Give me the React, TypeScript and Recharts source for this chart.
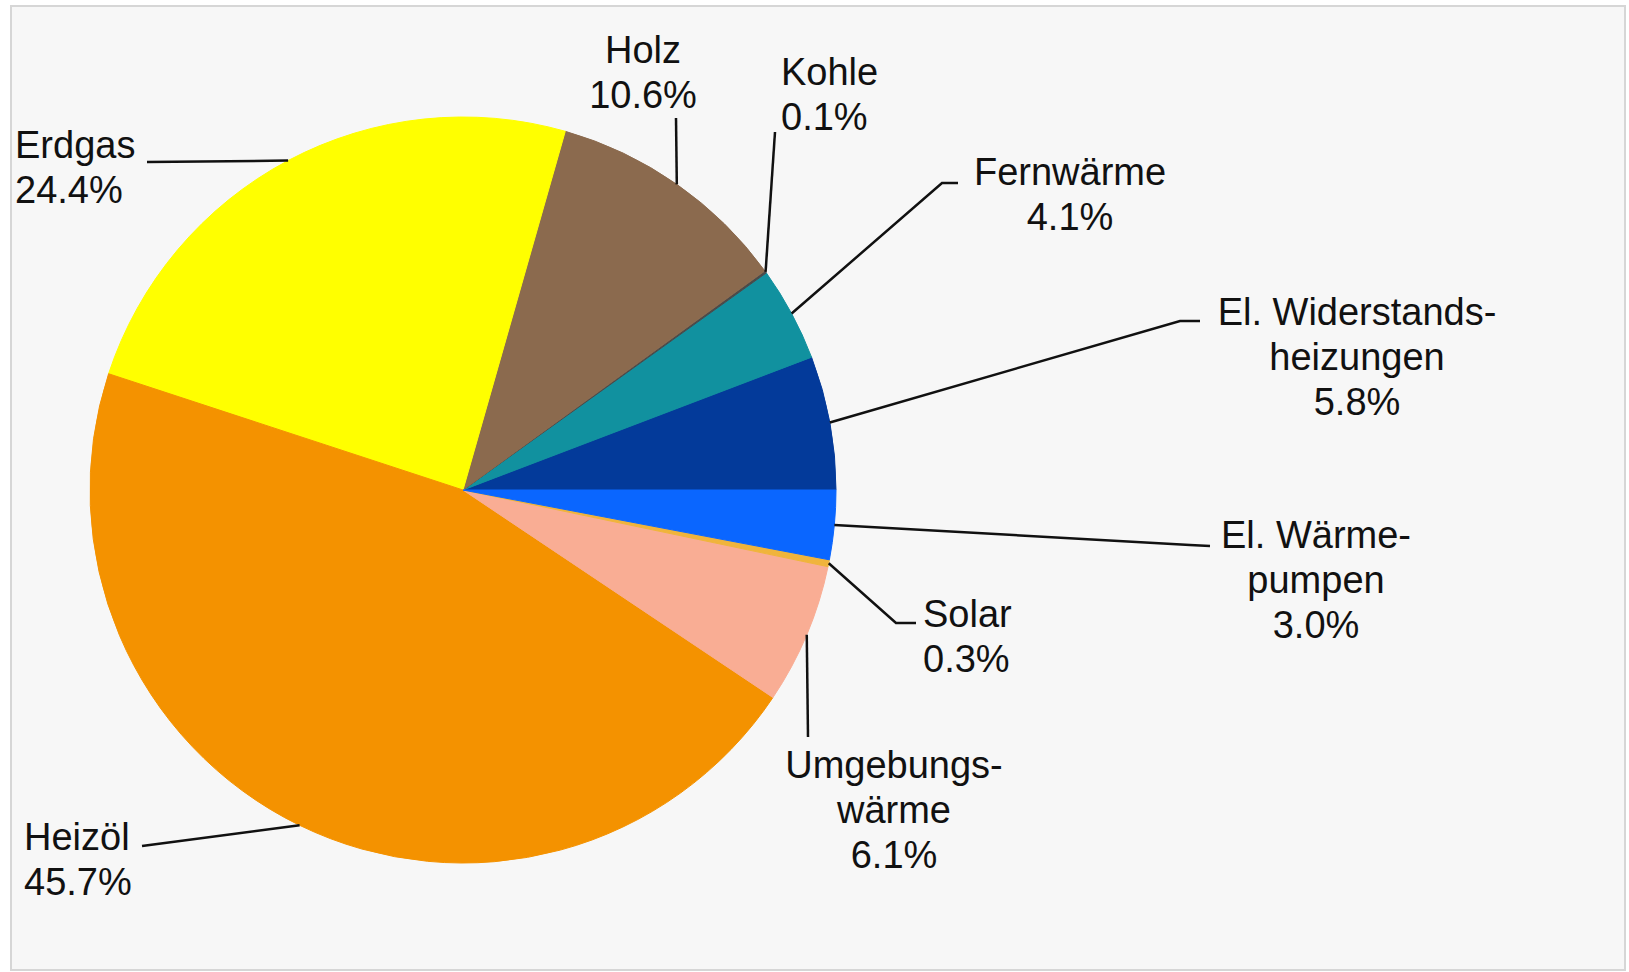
import { PieChart, Pie, Cell } from "recharts";

// Anteile der Energieträger (gegen den Uhrzeigersinn, ab 3 Uhr)
const categories = [
  "El. Widerstandsheizungen",
  "Fernwärme",
  "Kohle",
  "Holz",
  "Erdgas",
  "Heizöl",
  "Umgebungswärme",
  "Solar",
  "El. Wärmepumpen",
];
const shares = [5.8, 4.1, 0.1, 10.6, 24.4, 45.7, 6.1, 0.3, 3.0];
const labelLines = [
  ["El. Widerstands-", "heizungen"],
  ["Fernwärme"],
  ["Kohle"],
  ["Holz"],
  ["Erdgas"],
  ["Heizöl"],
  ["Umgebungs-", "wärme"],
  ["Solar"],
  ["El. Wärme-", "pumpen"],
];
const colors = [
  "#033a9a",
  "#11919f",
  "#4a4a4a",
  "#8b6a4e",
  "#ffff00",
  "#f49200",
  "#f9ad94",
  "#f0b43c",
  "#0a66ff",
];

// where each label sits and how its leader line bends
const labelLayout: { x: number; y: number; anchor: "start" | "middle"; bends: number[][] }[] = [
  { x: 1357, y: 325, anchor: "middle", bends: [[1180, 321], [1200, 321]] },
  { x: 1070, y: 185, anchor: "middle", bends: [[942, 183], [958, 183]] },
  { x: 781, y: 85, anchor: "start", bends: [[775, 132]] },
  { x: 643, y: 63, anchor: "middle", bends: [[676, 118]] },
  { x: 15, y: 158, anchor: "start", bends: [[147, 162]] },
  { x: 24, y: 850, anchor: "start", bends: [[142, 846]] },
  { x: 894, y: 778, anchor: "middle", bends: [[808, 737]] },
  { x: 923, y: 627, anchor: "start", bends: [[896, 623], [916, 623]] },
  { x: 1316, y: 548, anchor: "middle", bends: [[1190, 545], [1210, 546]] },
];

const data = categories.map((name, i) => ({ name, value: shares[i] }));

const RAD = Math.PI / 180;
const FONT = "'Liberation Sans', Arial, sans-serif";

function renderLabel(props: any) {
  const { cx, cy, midAngle, outerRadius, index, value } = props;
  const layout = labelLayout[index];
  const sx = cx + outerRadius * Math.cos(-midAngle * RAD);
  const sy = cy + outerRadius * Math.sin(-midAngle * RAD);
  const points = [[sx, sy], ...layout.bends].map((p) => p.join(",")).join(" ");
  const lines = [...labelLines[index], `${Number(value).toFixed(1)}%`];
  return (
    <g key={`label-${index}`}>
      <polyline points={points} fill="none" stroke="#111" strokeWidth={2.5} />
      <text
        x={layout.x}
        y={layout.y}
        textAnchor={layout.anchor}
        fontFamily={FONT}
        fontSize={38}
        fill="#111"
      >
        {lines.map((t, i) => (
          <tspan key={i} x={layout.x} dy={i === 0 ? 0 : 45}>
            {t}
          </tspan>
        ))}
      </text>
    </g>
  );
}

export default function App() {
  return (
    <div
      style={{
        position: "absolute",
        left: 0,
        top: 0,
        width: 1629,
        height: 972,
        background: "#ffffff",
      }}
    >
      <div
        style={{
          position: "absolute",
          left: 10,
          top: 5,
          width: 1612,
          height: 962,
          border: "2px solid #d6d6d6",
          background: "#f7f7f7",
        }}
      />
      <div style={{ position: "absolute", left: 0, top: 0 }}>
        <PieChart width={1629} height={972} margin={{ top: 0, right: 0, bottom: 0, left: 0 }}>
          <Pie
            data={data}
            dataKey="value"
            nameKey="name"
            cx={463}
            cy={490}
            outerRadius={373}
            startAngle={0}
            endAngle={360}
            labelLine={false}
            label={renderLabel}
            isAnimationActive={false}
          >
            {data.map((entry, index) => (
              <Cell
                key={`cell-${index}`}
                fill={colors[index]}
                stroke={colors[index]}
                strokeWidth={1}
              />
            ))}
          </Pie>
        </PieChart>
      </div>
    </div>
  );
}
